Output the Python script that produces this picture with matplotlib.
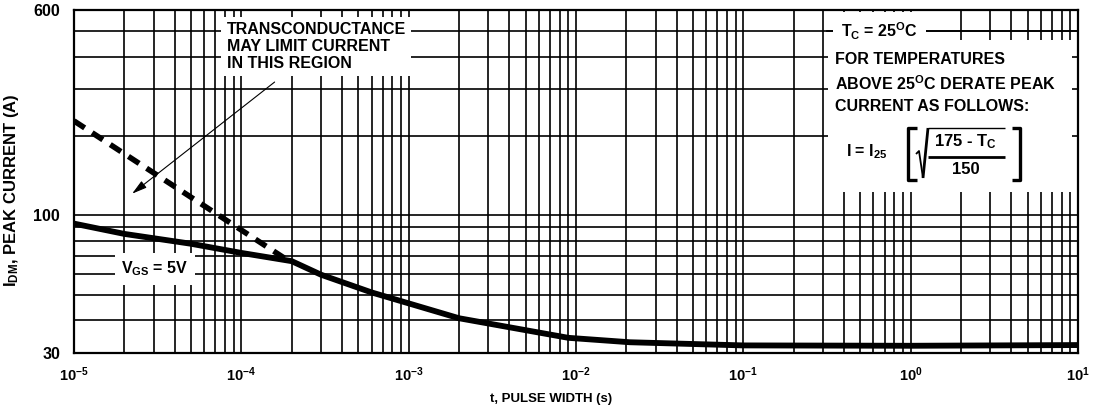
"""Peak current vs pulse width (I_DM vs t) with derating note."""

import numpy as np
import matplotlib
matplotlib.use("Agg")
import matplotlib.pyplot as plt
from matplotlib.patches import Rectangle

plt.rcParams["font.family"] = ["Liberation Sans", "DejaVu Sans"]
plt.rcParams["font.weight"] = "bold"
plt.rcParams["mathtext.fontset"] = "custom"
plt.rcParams["mathtext.rm"] = "Liberation Sans:bold"
plt.rcParams["mathtext.it"] = "Liberation Sans:bold"
plt.rcParams["mathtext.bf"] = "Liberation Sans:bold"

# ---------------------------------------------------------------- data
t_vgs5 = [1e-5, 2e-5, 5e-5, 1e-4, 2e-4, 3e-4, 6e-4, 2e-3, 9e-3,
          2.1e-2, 1e-1, 1.0, 10.0]
i_vgs5 = [93, 85, 78, 72, 67, 59.5, 51, 40.7, 34.3, 33.0, 32.1, 32.0, 32.2]

t_gm_limit = [1e-5, 2e-4]
i_gm_limit = [228, 66]

x_decades = [1e-5, 1e-4, 1e-3, 1e-2, 1e-1, 1e0, 1e1]
x_ticklabels = [r"10$^{\mathregular{-5}}$", r"10$^{\mathregular{-4}}$",
                r"10$^{\mathregular{-3}}$", r"10$^{\mathregular{-2}}$",
                r"10$^{\mathregular{-1}}$", r"10$^{\mathregular{0}}$",
                r"10$^{\mathregular{1}}$"]
y_major = [30, 100, 600]
y_minor = [40, 50, 60, 70, 80, 90, 200, 300, 400, 500]

# ---------------------------------------------------------------- figure
W, H = 1096, 405
fig = plt.figure(figsize=(W / 100, H / 100), dpi=100)
ax = fig.add_axes([0.0675, 0.128, 0.916, 0.847])
ax.set_xscale("log")
ax.set_yscale("log")
ax.set_xlim(1e-5, 10)
ax.set_ylim(30, 600)

ax.set_xticks(x_decades)
ax.set_xticklabels(x_ticklabels)
ax.set_xticks([m * d for d in x_decades[:-1] for m in range(2, 10)], minor=True)
ax.set_yticks(y_major)
ax.set_yticklabels([str(v) for v in y_major])
ax.set_yticks(y_minor, minor=True)
ax.yaxis.set_minor_formatter(matplotlib.ticker.NullFormatter())
ax.xaxis.set_minor_formatter(matplotlib.ticker.NullFormatter())
ax.tick_params(which="both", length=0)
ax.tick_params(axis="x", labelsize=10.5, pad=9)
ax.tick_params(axis="y", labelsize=11.5, pad=10)
ax.grid(True, which="both", color="black", lw=1.2, zorder=1)
ax.set_axisbelow(True)
for sp in ax.spines.values():
    sp.set_linewidth(1.6)

ax.plot(t_vgs5, i_vgs5, color="black", lw=4.2, solid_capstyle="butt", zorder=5)
ax.plot(t_gm_limit, i_gm_limit, color="black", lw=4.0, dashes=(2.3, 1.6),
        zorder=5)

ax.set_xlabel("t, PULSE WIDTH (s)", fontsize=9.5, fontweight="bold")
ax.xaxis.set_label_coords(0.475, -0.115)
ax.set_ylabel(r"I$_{\mathregular{DM}}$, PEAK CURRENT (A)", fontsize=12,
              fontweight="bold")
ax.yaxis.set_label_coords(-0.053, 0.475)

# transconductance note
ax.text(0.152, 0.965, "TRANSCONDUCTANCE\nMAY LIMIT CURRENT\nIN THIS REGION",
        transform=ax.transAxes, ha="left", va="top", fontsize=11.5,
        linespacing=1.15, zorder=6,
        bbox=dict(facecolor="white", edgecolor="none", pad=4))
ax.annotate("", xy=(2.16e-5, 119), xytext=(1.63e-4, 325),
            arrowprops=dict(arrowstyle="-|>,head_length=0.9,head_width=0.25",
                            color="black", lw=0.8), zorder=6)

# V_GS label
ax.text(3.05e-5, 62.5, r"V$_{\mathregular{GS}}$ = 5V", ha="center",
        va="center", fontsize=11.5, zorder=6,
        bbox=dict(facecolor="white", edgecolor="none", pad=5))

# derating note (positions in figure pixels, origin top-left)
def px(x, y):
    return x / W, 1 - y / H

ax.add_patch(Rectangle(px(828, 192), 244 / W, 152 / H, transform=fig.transFigure,
                       facecolor="white", edgecolor="none", zorder=2))
ax.axhline(500, xmin=0.75, xmax=1.0, color="black", lw=1.2, zorder=3)
ax.text(*px(841, 31), r"T$_{\mathregular{C}}$ = 25$^{\mathregular{O}}$C",
        transform=fig.transFigure, ha="left", va="center", fontsize=11.5,
        zorder=6, bbox=dict(facecolor="white", edgecolor="none", pad=6))
ax.text(*px(835, 83), "FOR TEMPERATURES\n"
        r"ABOVE 25$^{\mathregular{O}}$C DERATE PEAK" "\nCURRENT AS FOLLOWS:",
        transform=fig.transFigure, ha="left", va="center", fontsize=11.5,
        linespacing=1.5, zorder=6)
ax.text(*px(846, 152), r"I = I$_{\mathregular{25}}$", transform=fig.transFigure,
        ha="left", va="center", fontsize=11.5, zorder=6)
ax.text(*px(965, 142), r"175 - T$_{\mathregular{C}}$", transform=fig.transFigure,
        ha="center", va="center", fontsize=12, zorder=6)
ax.text(*px(966, 169), "150", transform=fig.transFigure,
        ha="center", va="center", fontsize=12, zorder=6)
for xs, ys, lw in [
    ([917, 908, 908, 917], [128, 128, 180, 180], 2.4),   # left bracket
    ([1012, 1020, 1020, 1012], [128, 128, 180, 180], 2.4),  # right bracket
    ([916, 919, 923], [154, 151, 178], 1.3),             # sqrt tick
    ([923, 928], [178, 128], 2.0),                       # sqrt rise
    ([928, 1005], [128, 128], 1.0),                      # vinculum
    ([928, 1005], [157, 157], 2.0),                      # fraction bar
]:
    fx, fy = zip(*[px(a, b) for a, b in zip(xs, ys)])
    ax.add_line(plt.Line2D(fx, fy, transform=fig.transFigure, color="black",
                           lw=lw, solid_capstyle="butt", zorder=6))

fig.savefig("out.png", dpi=100)
